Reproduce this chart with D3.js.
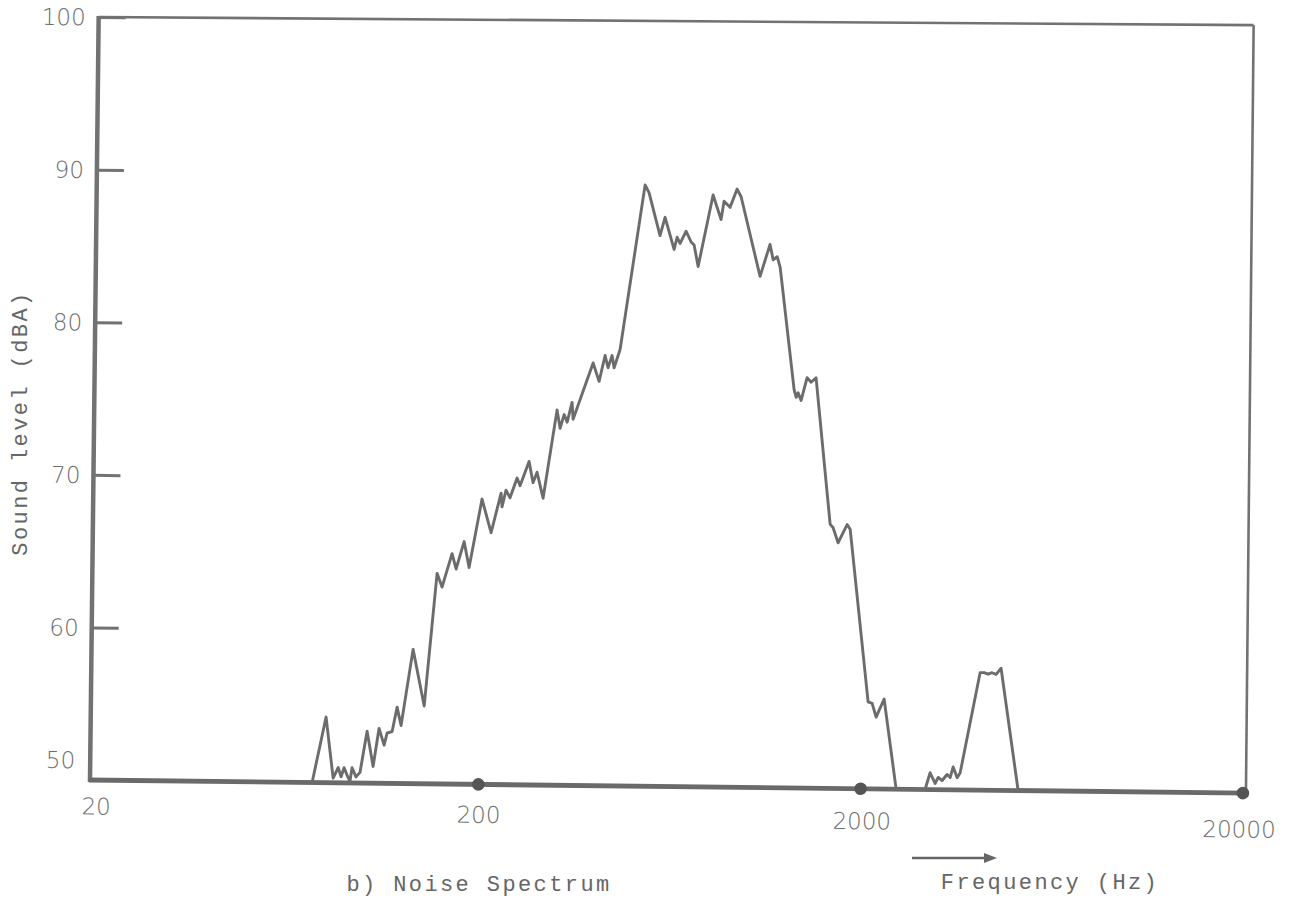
<!DOCTYPE html>
<html>
<head>
<meta charset="utf-8">
<script src="https://cdn.jsdelivr.net/npm/d3@7"></script>
<style>
  html, body { margin: 0; padding: 0; background: #ffffff; }
  svg { display: block; }
  .num { font-family: "DejaVu Sans", sans-serif; font-weight: 200; font-size: 23px; fill: #6c6c6c; }
  .lbl { font-family: "Liberation Mono", monospace; font-size: 22px; fill: #666666; letter-spacing: 2.4px; }
</style>
</head>
<body>
<svg id="chart" width="1303" height="900"></svg>
<script>
// Noise spectrum: sound level (dBA) against frequency (Hz, log scale)
const freqHz = [
  73.5, 79.6, 83.4, 85.9, 87.5, 89.0, 90.7, 92.3, 93.4, 95.7, 98.0,
  102.0, 106.0, 109.6, 113.1, 115.1, 118.6, 122.0, 125.1, 133.8, 143.6,
  153.8, 158.6, 168.1, 172.4, 180.6, 186.4, 200.6, 212.3, 224.9, 226.4,
  231.6, 237.4, 247.4, 252.0, 265.6, 272.4, 278.9, 289.7, 313.3, 319.4,
  327.0, 333.2, 342.7, 345.2, 388.0, 402.7, 416.8, 424.6, 434.7, 440.3,
  456.0, 524.2, 537.0, 575.5, 592.5, 626.9, 638.0, 649.7, 673.2, 694.2,
  707.0, 725.4, 790.0, 830.2, 844.2, 875.8, 912.5, 935.3, 1054, 1117,
  1139, 1167, 1189, 1304, 1321, 1336, 1361, 1409, 1444, 1487,
  1635, 1664, 1717, 1811, 1845, 2080, 2131, 2185, 2290, 2477,
  2949, 3036, 3131, 3188, 3266, 3363, 3427, 3487, 3574, 3637,
  4076, 4176, 4277, 4381, 4488, 4622, 5164
];
const levelDb = [
  50.0, 54.3, 50.3, 51.0, 50.4, 51.0, 50.5, 50.1, 51.0, 50.4, 50.7,
  53.4, 51.1, 53.6, 52.5, 53.3, 53.4, 55.0, 53.8, 58.8, 55.1,
  63.8, 62.9, 65.1, 64.1, 65.9, 64.2, 68.7, 66.5, 69.1, 68.2,
  69.3, 68.8, 70.1, 69.6, 71.2, 69.8, 70.5, 68.8, 74.6, 73.4,
  74.3, 73.8, 75.1, 74.0, 77.7, 76.5, 78.2, 77.4, 78.2, 77.4,
  78.6, 89.4, 88.9, 86.1, 87.3, 85.2, 86.0, 85.6, 86.4, 85.7,
  85.5, 84.1, 88.8, 87.2, 88.4, 88.0, 89.2, 88.7, 83.5, 85.6,
  84.6, 84.8, 84.1, 76.1, 75.6, 75.9, 75.4, 76.9, 76.6, 76.9,
  67.3, 67.1, 66.1, 67.3, 67.0, 55.7, 55.6, 54.7, 55.9, 50.0,
  50.0, 51.1, 50.4, 50.8, 50.6, 51.0, 50.8, 51.5, 50.8, 51.1,
  57.7, 57.7, 57.6, 57.7, 57.6, 58.0, 50.0
];
const yTickValues = [60, 70, 80, 90, 100];
const yTickLabels = [50, 60, 70, 80, 90, 100];
const xTickLabels = [20, 200, 2000, 20000];
const xMarkerValues = [200, 2000, 20000];

const svg = d3.select("#chart");
const ink = "#727272";

const plotW = 1156, plotH = 763;
// the plotted frame sits slightly turned on the page
const plot = svg.append("g").attr("transform", "translate(90,780) rotate(0.65)");

const x = d3.scaleLog().domain([20, 20000]).range([6, 1153]);
const y = d3.scaleLinear().domain([50, 100]).range([0, -plotH]);

// frame (hand-ruled: top edge rises a little towards the right)
const topRight = y(100) - 5;
plot.append("line").attr("x1", 0).attr("x2", plotW - 1).attr("y1", y(100)).attr("y2", topRight)
  .attr("stroke", ink).attr("stroke-width", 2.6);
plot.append("line").attr("x1", plotW - 1).attr("x2", plotW).attr("y1", topRight).attr("y2", y(50))
  .attr("stroke", ink).attr("stroke-width", 2.6);
plot.append("line").attr("x1", 0).attr("x2", 0).attr("y1", y(100) - 1).attr("y2", y(50) + 2)
  .attr("stroke", ink).attr("stroke-width", 4.5);
plot.append("line").attr("x1", -1).attr("x2", plotW + 1).attr("y1", y(50)).attr("y2", y(50))
  .attr("stroke", "#6a6a6a").attr("stroke-width", 4.8);

// inward ticks on the level axis
const yTicks = plot.append("g")
  .call(d3.axisRight(y).tickValues(yTickValues).tickSize(27).tickFormat(""));
yTicks.select(".domain").remove();
yTicks.selectAll(".tick line").attr("stroke", ink).attr("stroke-width", 3);

// level labels
const yLab = plot.append("g")
  .call(d3.axisLeft(y).tickValues(yTickLabels).tickSize(0).tickPadding(13).tickFormat(d3.format("d")));
yLab.select(".domain").remove();
yLab.selectAll(".tick text").attr("class", "num").attr("dy", "0.34em")
  .attr("transform", d => d === 50 ? "translate(-2,-20)" : null);

// frequency labels, typed slightly lower towards the right
const xLab = plot.append("g")
  .call(d3.axisBottom(x).tickValues(xTickLabels).tickSize(0).tickPadding(18).tickFormat(d3.format("d")));
xLab.select(".domain").remove();
xLab.selectAll(".tick text").attr("class", "num")
  .attr("transform", (d, i) => `translate(${[0, 0, 1, -4][i]},${[0, 4, 6, 10][i]})`);

// decade markers on the frequency axis
plot.selectAll("circle.mark").data(xMarkerValues).join("circle")
  .attr("class", "mark")
  .attr("cx", d => x(d)).attr("cy", y(50)).attr("r", 6.3)
  .attr("fill", "#555555");

// spectrum trace
const pts = freqHz.map((f, i) => ({ f, db: levelDb[i] }));
const line = d3.line().x(d => x(d.f)).y(d => y(d.db));
plot.append("path").datum(pts)
  .attr("d", line)
  .attr("fill", "none")
  .attr("stroke", "#6c6c6c")
  .attr("stroke-width", 2.9)
  .attr("stroke-linejoin", "round")
  .attr("stroke-linecap", "round");

// axis titles
svg.append("text").attr("class", "lbl")
  .attr("transform", "translate(27,423) rotate(-90)")
  .attr("text-anchor", "middle")
  .text("Sound level (dBA)");

svg.append("text").attr("class", "lbl")
  .attr("x", 479).attr("y", 891).attr("text-anchor", "middle")
  .text("b) Noise Spectrum");

svg.append("text").attr("class", "lbl")
  .attr("x", 1050).attr("y", 889).attr("text-anchor", "middle")
  .text("Frequency (Hz)");

// direction arrow above the frequency title
svg.append("line").attr("x1", 912).attr("x2", 984).attr("y1", 858).attr("y2", 858)
  .attr("stroke", "#666").attr("stroke-width", 2.4);
svg.append("path").attr("d", "M984,853 L997,858 L984,863 Z").attr("fill", "#666");
</script>
</body>
</html>
